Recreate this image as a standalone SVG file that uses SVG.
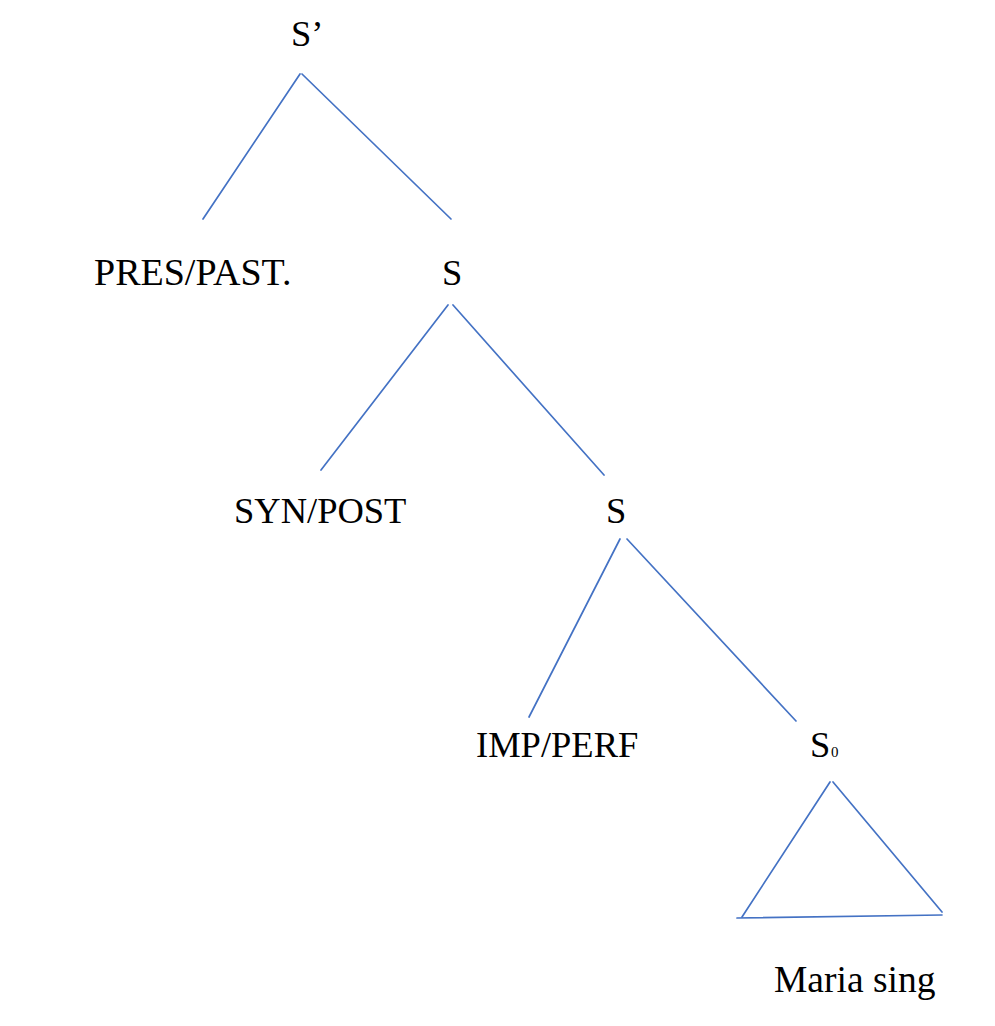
<svg xmlns="http://www.w3.org/2000/svg" width="995" height="1026" viewBox="0 0 995 1026">
<style>
.t{font-family:"Liberation Serif","Times New Roman",serif;font-size:36.5px;fill:#000}
.sub{font-family:"Liberation Serif","Times New Roman",serif;font-size:15px;fill:#000}
.e{stroke:#4472C4;stroke-width:1.7;fill:none;stroke-linecap:round}
</style>
<rect width="995" height="1026" fill="#ffffff"/>
<g id="connectors">
<line class="e" x1="300" y1="74" x2="203" y2="219"/>
<line class="e" x1="302" y1="74" x2="451" y2="219"/>
<line class="e" x1="448" y1="305" x2="321" y2="470"/>
<line class="e" x1="453" y1="305" x2="604" y2="475"/>
<line class="e" x1="620" y1="539" x2="529" y2="717"/>
<line class="e" x1="627" y1="539" x2="796" y2="721"/>
</g>
<g id="node-sprime"><text class="t" x="291" y="46">S’</text></g>
<g id="node-prespast"><text class="t" x="94" y="285" style="font-size:38px">PRES/PAST.</text></g>
<g id="node-s1"><text class="t" x="442" y="285">S</text></g>
<g id="node-synpost"><text class="t" x="234" y="523">SYN/POST</text></g>
<g id="node-s2"><text class="t" x="606" y="523">S</text></g>
<g id="node-impperf"><text class="t" x="476" y="757">IMP/PERF</text></g>
<g id="node-s0"><text class="t" x="810" y="757">S</text><text class="sub" x="831" y="757">0</text></g>
<g id="node-triangle">
<line class="e" x1="830" y1="782" x2="742" y2="917"/>
<line class="e" x1="833" y1="782" x2="942" y2="912"/>
<line class="e" x1="737" y1="918" x2="942" y2="915"/>
</g>
<g id="node-maria"><text class="t" x="774" y="992" style="font-size:37.5px">Maria sing</text></g>
</svg>
